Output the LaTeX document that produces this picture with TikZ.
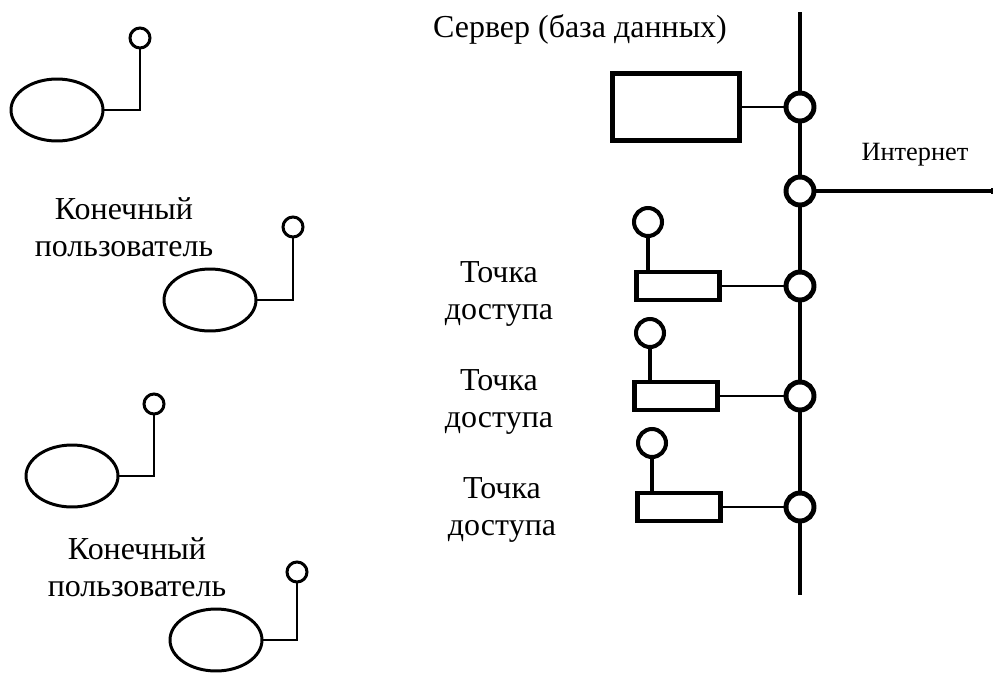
\documentclass[tikz,border=0pt]{standalone}
\usepackage{fontspec}
\setmainfont{Liberation Serif}
\usepackage{tikz}
\usetikzlibrary{shapes.geometric}
\usetikzlibrary{arrows.meta}

\tikzset{
    user/.style={ellipse, draw, line width=1.7pt, minimum width=1.84cm, minimum height=1.24cm, inner sep=0pt},
    usrant/.style={circle, draw, line width=1.7pt, minimum size=0.4cm, inner sep=0pt},
    usrline/.style={line width=1.7pt},
    apbox/.style={rectangle, draw, line width=2.3pt, minimum width=1.66cm, minimum height=0.56cm, inner sep=0pt},
    apant/.style={circle, draw, line width=2.3pt, minimum size=0.56cm, inner sep=0pt},
    srvbox/.style={rectangle, draw, line width=2.8pt, minimum width=2.54cm, minimum height=1.34cm, inner sep=0pt},
    busnode/.style={circle, draw, line width=2.8pt, minimum size=0.56cm, inner sep=0pt},
    busline/.style={line width=2.3pt},
    thinline/.style={line width=1.1pt},
    lbl/.style={align=center, inner sep=0pt}
}

\begin{document}
\begin{tikzpicture}[x=0.02cm, y=-0.02cm, font=\fontsize{18.2}{21}\selectfont]
        \useasboundingbox (0,0) rectangle (995,673);
        % Add end users
        \node[user] (u1) at (57,110) {};
        \node[usrant] (ua1) at (140,38) {};
        \draw[usrline] (u1.east) -| (ua1.south);
        \node[user] (u2) at (210,300) {};
        \node[usrant] (ua2) at (293,227) {};
        \draw[usrline] (u2.east) -| (ua2.south);
        \node[user] (u3) at (72,476) {};
        \node[usrant] (ua3) at (154,404) {};
        \draw[usrline] (u3.east) -| (ua3.south);
        \node[user] (u4) at (216,640) {};
        \node[usrant] (ua4) at (297,572) {};
        \draw[usrline] (u4.east) -| (ua4.south);
        \node[lbl] (lu1) at (124,227) {Конечный\\пользователь};
        \node[lbl] (lu2) at (137,567) {Конечный\\пользователь};
        % Add bus
        \coordinate (bustop) at (800,12);
        \coordinate (busbot) at (800,595);
        \node[busnode] (s1) at (800,107) {};
        \node[busnode] (s2) at (800,191) {};
        \node[busnode] (s3) at (800,286) {};
        \node[busnode] (s4) at (800,396) {};
        \node[busnode] (s5) at (800,507) {};
        \draw[busline] (bustop) -- (s1) -- (s2) -- (s3) -- (s4) -- (s5) -- (busbot);
        % Add server and internet
        \node[srvbox] (srv) at (676,107) {};
        \draw[thinline] (srv.east) -- (s1.west);
        \node[anchor=base] (lsrv) at (580,37) {Сервер (база данных)};
        \coordinate (netend) at (993,191);
        \draw[busline, -{Rectangle[length=1.2pt, width=3.4pt]}] (s2.east) -- (netend);
        \node[anchor=base, font=\fontsize{15}{18}\selectfont] (lnet) at (915,160) {Интернет};
        % Add access points
        \node[apbox] (ap1) at (678,286) {};
        \node[apant] (apa1) at (648,222) {};
        \draw[busline] (apa1.south) -- (apa1.south |- ap1.north);
        \draw[thinline] (ap1.east) -- (s3.west);
        \node[apbox] (ap2) at (676,396) {};
        \node[apant] (apa2) at (650,333) {};
        \draw[busline] (apa2.south) -- (apa2.south |- ap2.north);
        \draw[thinline] (ap2.east) -- (s4.west);
        \node[apbox] (ap3) at (679,507) {};
        \node[apant] (apa3) at (652,443) {};
        \draw[busline] (apa3.south) -- (apa3.south |- ap3.north);
        \draw[thinline] (ap3.east) -- (s5.west);
        \node[lbl] (lap1) at (499,294) {Точка\\доступа};
        \node[lbl] (lap2) at (499,402) {Точка\\доступа};
        \node[lbl] (lap3) at (502,510) {Точка\\доступа};
\end{tikzpicture}
\end{document}
